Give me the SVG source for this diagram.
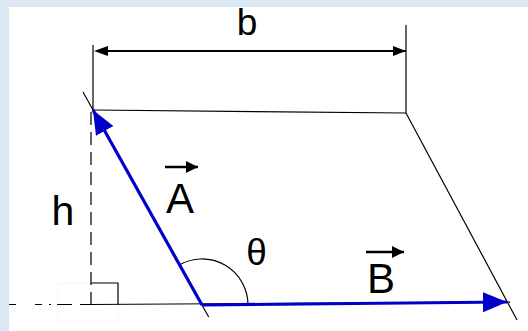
<svg xmlns="http://www.w3.org/2000/svg" width="528" height="331" viewBox="0 0 528 331">
<style>
.thin{stroke:#000;stroke-width:1.2;fill:none}
.dim{stroke:#000;stroke-width:2;fill:none}
.sm{stroke:#000;stroke-width:2.6;fill:none}
.vec{stroke:#0000c8;stroke-width:3.2;fill:none}
.lbl{font-family:"Liberation Sans",Arial,sans-serif;fill:#000}
</style>
<defs>
<marker id="ah" markerWidth="13" markerHeight="10" refX="13" refY="5" orient="auto" markerUnits="userSpaceOnUse"><path d="M0,0 L13,5 L0,10 Z" fill="#000"/></marker>
<marker id="ahs" markerWidth="12" markerHeight="12" refX="12" refY="6" orient="auto" markerUnits="userSpaceOnUse"><path d="M0,0 L12,6 L0,12 Z" fill="#000"/></marker>
<marker id="bh" markerWidth="24" markerHeight="20" refX="24" refY="10" orient="auto" markerUnits="userSpaceOnUse"><path d="M0,0 L24,10 L0,20 Z" fill="#0000c8"/></marker>
</defs>
<rect x="0" y="0" width="528" height="331" fill="#dde8f5"/>
<rect x="9" y="7" width="519" height="324" fill="#fff"/>
<g id="construction">
<rect x="58" y="283" width="60" height="38" fill="none" stroke="#f6f6f6" stroke-width="1"/>
<line class="thin" x1="93" y1="45" x2="93" y2="110"/>
<line class="thin" x1="406" y1="25" x2="406" y2="113"/>
<line class="thin" x1="93" y1="110" x2="406" y2="113"/>
<line class="thin" x1="406" y1="113" x2="517" y2="320"/>
<line class="thin" x1="83" y1="92" x2="208.7" y2="317"/>
<line class="thin" x1="90" y1="304.5" x2="510" y2="302"/>
<path class="thin" d="M9,304.5H16M35,304.5H42M49,304.5H51M57,304.5H72M80,304.5H90"/>
<line class="thin" x1="91" y1="112" x2="91" y2="304" stroke-dasharray="13,7"/>
<path class="thin" d="M91,283H118V304.5"/>
<path class="thin" d="M179.6,264.8 A46,46 0 0 1 248,304"/>
</g>
<g id="connectors">
<line class="dim" x1="106" y1="51" x2="406" y2="51" marker-end="url(#ah)"/>
<path d="M94,51 L108,46 L108,56 Z" fill="#000"/>
<line class="vec" x1="202" y1="305" x2="93" y2="110" marker-end="url(#bh)"/>
<line class="vec" x1="202" y1="305" x2="507" y2="302" marker-end="url(#bh)"/>
<line class="sm" x1="165" y1="167" x2="198" y2="167" marker-end="url(#ahs)"/>
<line class="sm" x1="366" y1="252" x2="404" y2="252" marker-end="url(#ahs)"/>
</g>
<g id="labels">
<text class="lbl" x="247" y="35" font-size="37" text-anchor="middle">b</text>
<text class="lbl" x="63" y="225" font-size="41" text-anchor="middle">h</text>
<text class="lbl" x="180" y="213" font-size="42" text-anchor="middle">A</text>
<text class="lbl" x="381" y="293" font-size="42" text-anchor="middle">B</text>
<text class="lbl" x="256.5" y="265" font-size="37" text-anchor="middle">θ</text>
</g>
</svg>
